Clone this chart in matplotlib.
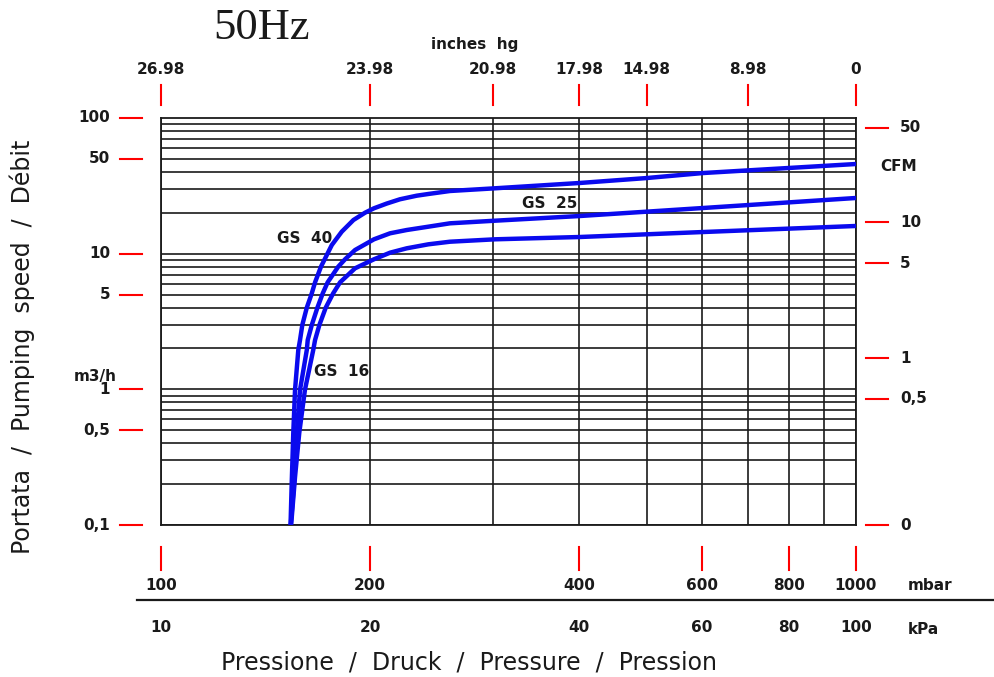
import matplotlib
matplotlib.use("Agg")
import matplotlib.pyplot as plt
from matplotlib.lines import Line2D

# ---- data ----
gs40_p = [153.6, 154.2, 155.0, 155.9, 157.6, 158.5, 159.7, 162.1, 164.8, 166.6, 169.9, 176.1,
          182.0, 189.2, 196.6, 202.5, 211.2, 220.7, 233.3, 242.5, 260.5, 302.5, 400.7, 500.0,
          602.6, 1000]
gs40_q = [0.10, 0.204, 0.477, 0.99, 1.95, 2.31, 2.98, 4.00, 5.10, 6.15, 8.02, 11.58,
          14.52, 17.71, 20.04, 21.6, 23.4, 25.17, 26.75, 27.54, 28.97, 30.33, 33.2, 36.1,
          39.3, 45.8]

gs25_p = [153.7, 155.4, 156.8, 158.5, 162.1, 162.6, 164.8, 167.9, 170.9, 173.7, 179.9, 184.0,
          190.2, 202.5, 213.6, 225.7, 242.5, 260.5, 302.5, 400.7, 602.6, 1000]
gs25_q = [0.10, 0.204, 0.477, 0.99, 1.95, 2.31, 2.98, 4.00, 5.10, 6.15, 8.02, 9.09,
          10.64, 12.76, 14.13, 14.94, 15.81, 16.74, 17.50, 18.95, 21.71, 25.73]

gs16_p = [153.9, 155.9, 158.1, 161.1, 165.6, 166.6, 169.0, 172.6, 176.9, 181.0, 190.2, 202.5,
          213.6, 225.7, 242.5, 260.5, 302.5, 400.7, 602.6, 1000]
gs16_q = [0.10, 0.226, 0.477, 0.99, 1.95, 2.31, 2.98, 4.00, 5.10, 6.15, 7.80, 9.09,
          10.17, 10.95, 11.72, 12.25, 12.76, 13.27, 14.44, 16.0]

series_names = ["GS 40", "GS 25", "GS 16"]
label_p = [161.1, 362.8, 182.2]
label_q = [13.0, 23.6, 1.36]

mbar_ticks = [100, 200, 400, 600, 800, 1000]
mbar_labels = ["100", "200", "400", "600", "800", "1000"]
kpa_labels = ["10", "20", "40", "60", "80", "100"]

inhg_pos = [100, 200, 300, 400, 500, 700, 1000]
inhg_labels = ["26.98", "23.98", "20.98", "17.98", "14.98", "8.98", "0"]

m3h_ticks = [100, 50, 10, 5, 1, 0.5, 0.1]
m3h_labels = ["100", "50", "10", "5", "1", "0,5", "0,1"]

cfm_ticks = [50, 10, 5, 1, 0.5]
cfm_labels = ["50", "10", "5", "1", "0,5"]
CFM_TO_M3H = 1.699

# ---- figure ----
W, H = 995, 677
fig = plt.figure(figsize=(W / 100, H / 100), dpi=100)
L, R, T, B = 161, 856, 118, 525
ax = fig.add_axes([L / W, 1 - B / H, (R - L) / W, (B - T) / H])
ax.set_xscale("log")
ax.set_yscale("log")
ax.set_xlim(100, 1000)
ax.set_ylim(0.1, 100)
ax.set_xticks([]); ax.set_yticks([])
ax.minorticks_off()
ax.tick_params(which="both", length=0, labelleft=False, labelbottom=False)
for s in ax.spines.values():
    s.set_linewidth(1.3)
    s.set_color("#1a1a1a")

GRID = "#1a1a1a"
for e in (-1, 0, 1):
    for m in range(1, 10):
        ax.axhline(m * 10.0 ** e, color=GRID, lw=1.2, zorder=1)
for v in range(100, 1001, 100):
    ax.axvline(v, color=GRID, lw=1.2, zorder=1)

BLUE = "#0a0aee"
for p, q in [(gs40_p, gs40_q), (gs25_p, gs25_q), (gs16_p, gs16_q)]:
    ax.plot(p, q, color=BLUE, lw=3.2, solid_capstyle="butt", solid_joinstyle="round", zorder=3)

NUMF = dict(fontsize=11, fontweight="bold", color="#1a1a1a", family="DejaVu Sans")

for name, px, py in zip(series_names, label_p, label_q):
    ax.text(px, py, name.replace(" ", "  "), ha="center", va="center", zorder=4, **NUMF)

red = "red"
yt = ax.get_yaxis_transform()
xt = ax.get_xaxis_transform()
ax_w = R - L
ax_h = B - T

def axx(px):
    return (px - L) / ax_w

def axy(py):
    return (B - py) / ax_h

# left ticks
for v, lab in zip(m3h_ticks, m3h_labels):
    ax.add_line(Line2D([axx(120), axx(142)], [v, v], transform=yt, color=red, lw=1.5, clip_on=False))
    ax.text(axx(110), v, lab, transform=yt, ha="right", va="center", **NUMF)
fig.text(95 / W, 1 - 376 / H, "m3/h", ha="center", va="center", **NUMF)

# right ticks (CFM)
for v, lab in zip(cfm_ticks, cfm_labels):
    q = v * CFM_TO_M3H
    ax.add_line(Line2D([axx(866), axx(888)], [q, q], transform=yt, color=red, lw=1.5, clip_on=False))
    ax.text(axx(900), q, lab, transform=yt, ha="left", va="center", **NUMF)
ax.add_line(Line2D([axx(866), axx(888)], [0.1, 0.1], transform=yt, color=red, lw=1.5, clip_on=False))
ax.text(axx(900), 0.1, "0", transform=yt, ha="left", va="center", **NUMF)
fig.text(880 / W, 1 - 167 / H, "CFM", ha="left", va="center", **NUMF)

# top ticks (inches hg)
for v, lab in zip(inhg_pos, inhg_labels):
    ax.add_line(Line2D([v, v], [axy(105), axy(85)], transform=xt, color=red, lw=1.5, clip_on=False))
    ax.text(v, axy(69), lab, transform=xt, ha="center", va="center", **NUMF)
fig.text(475 / W, 1 - 44 / H, "inches  hg", ha="center", va="center", **NUMF)

# bottom ticks (mbar / kPa)
for v, lab, klab in zip(mbar_ticks, mbar_labels, kpa_labels):
    ax.add_line(Line2D([v, v], [axy(547), axy(570)], transform=xt, color=red, lw=1.5, clip_on=False))
    ax.text(v, axy(585), lab, transform=xt, ha="center", va="center", **NUMF)
    ax.text(v, axy(628), klab, transform=xt, ha="center", va="center", **NUMF)
fig.text(908 / W, 1 - 585 / H, "mbar", ha="left", va="center", **NUMF)
fig.text(908 / W, 1 - 629 / H, "kPa", ha="left", va="center", **NUMF)

fig.add_artist(Line2D([137 / W, 995 / W], [1 - 600 / H, 1 - 600 / H], transform=fig.transFigure,
                      color="#1a1a1a", lw=1.6))

LABF = dict(fontsize=17, color="#1a1a1a", family="DejaVu Sans")
fig.text(469 / W, 1 - 662 / H, "Pressione  /  Druck  /  Pressure  /  Pression",
         ha="center", va="center", **LABF)
fig.text(22 / W, 1 - 347 / H, "Portata  /  Pumping  speed  /  Débit",
         ha="center", va="center", rotation=90, **LABF)

fig.text(262 / W, 1 - 28 / H, "50Hz", ha="center", va="center", fontsize=32,
         family=["Liberation Serif", "DejaVu Serif"], color="#1a1a1a")

fig.savefig("out.png", dpi=100)
